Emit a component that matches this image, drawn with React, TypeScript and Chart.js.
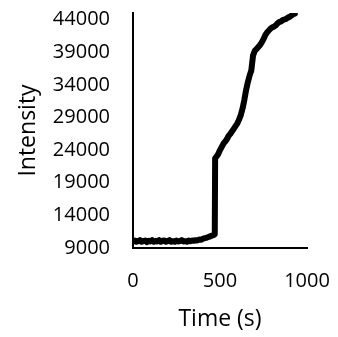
import React, { useEffect, useRef } from "react";
import { Chart, registerables } from "chart.js";

Chart.register(...registerables);

const times = [
  0, 10, 20, 30, 40, 50, 60, 70, 80, 90, 100, 110, 120, 130, 140, 150, 160, 170, 180, 190,
  200, 210, 220, 230, 240, 250, 260, 270, 280, 290, 300, 310, 320, 330, 340, 350, 360, 370,
  380, 390, 400, 410, 420, 430, 440, 450, 460, 470, 472, 480, 490, 500, 510, 520, 530, 540,
  550, 560, 570, 580, 590, 600, 610, 620, 630, 640, 650, 660, 670, 680, 690, 700, 710, 720,
  730, 740, 750, 760, 770, 780, 790, 800, 810, 820, 830, 840, 850, 860, 870, 880, 890, 900,
  910, 920, 930,
];

const intensity = [
  10000, 10150, 9950, 10050, 10200, 9950, 10050, 10150, 9900, 10100, 10000, 10200, 9950, 10100,
  10000, 10200, 9950, 10100, 10150, 9950, 10050, 10200, 9950, 10050, 9950, 10150, 10000, 10050,
  10200, 10000, 10050, 9950, 10150, 10050, 10150, 10100, 10200, 10150, 10300, 10250, 10400,
  10500, 10550, 10650, 10750, 10850, 10950, 11100, 22700, 23000, 23400, 24000, 24500, 25000,
  25300, 25700, 26200, 26500, 26900, 27300, 27700, 28100, 28700, 29400, 30400, 31700, 33200,
  34400, 35400, 36200, 38500, 39200, 39500, 39800, 40100, 40500, 41000, 41600, 42000, 42300,
  42600, 42800, 42900, 43100, 43400, 43600, 43700, 43900, 44000, 44100, 44300, 44400, 44600,
  44800, 44900,
];

const xTicks = [0, 500, 1000];
const yTicks = [9000, 14000, 19000, 24000, 29000, 34000, 39000, 44000];

const FONT = "'Open Sans', sans-serif";

export default function App() {
  const ref = useRef<HTMLCanvasElement | null>(null);

  useEffect(() => {
    document.body.style.margin = "0";
    const ctx = ref.current!;
    Chart.defaults.color = "#000";
    const chart = new Chart(ctx, {
      type: "line",
      data: {
        datasets: [
          {
            data: times.map((t, i) => ({ x: t, y: intensity[i] })),
            borderColor: "#000",
            borderWidth: 6,
            borderJoinStyle: "round",
            borderCapStyle: "round",
            pointRadius: 0,
            tension: 0,
            fill: false,
          },
        ],
      },
      options: {
        animation: false,
        responsive: false,
        maintainAspectRatio: false,
        layout: { padding: { left: 0, right: 31, top: 13, bottom: 0 } },
        plugins: { legend: { display: false }, tooltip: { enabled: false } },
        scales: {
          x: {
            type: "linear",
            min: 0,
            max: 1000,
            afterBuildTicks: (s: any) => {
              s.ticks = xTicks.map((v) => ({ value: v }));
            },
            afterFit: (s: any) => {
              s.height = 89;
            },
            grid: { display: false, drawTicks: true, tickLength: 21 },
            border: { display: true, color: "#000", width: 2 },
            ticks: {
              padding: 0,
              font: { family: FONT, size: 20 },
              color: "#000",
              maxRotation: 0,
              callback: (v: any) => String(v),
            },
            title: {
              display: true,
              text: "Time (s)",
              font: { family: FONT, size: 23 },
              color: "#000",
              padding: { top: 0, bottom: 4 },
            },
          },
          y: {
            type: "linear",
            min: 9000,
            max: 45000,
            afterBuildTicks: (s: any) => {
              s.ticks = yTicks.map((v) => ({ value: v }));
            },
            afterFit: (s: any) => {
              s.width = 133;
            },
            grid: { display: false, drawTicks: true, tickLength: 23 },
            border: { display: true, color: "#000", width: 2 },
            ticks: {
              padding: 0,
              font: { family: FONT, size: 20 },
              color: "#000",
              callback: (v: any) => String(v),
            },
            title: {
              display: true,
              text: "Intensity",
              font: { family: FONT, size: 23 },
              color: "#000",
              padding: { top: 15, bottom: 0 },
            },
          },
        },
      },
    });
    return () => chart.destroy();
  }, []);

  return (
    <div style={{ position: "absolute", left: 0, top: 0, width: 338, height: 337 }}>
      <canvas ref={ref} width={338} height={337} style={{ width: 338, height: 337 }} />
    </div>
  );
}
